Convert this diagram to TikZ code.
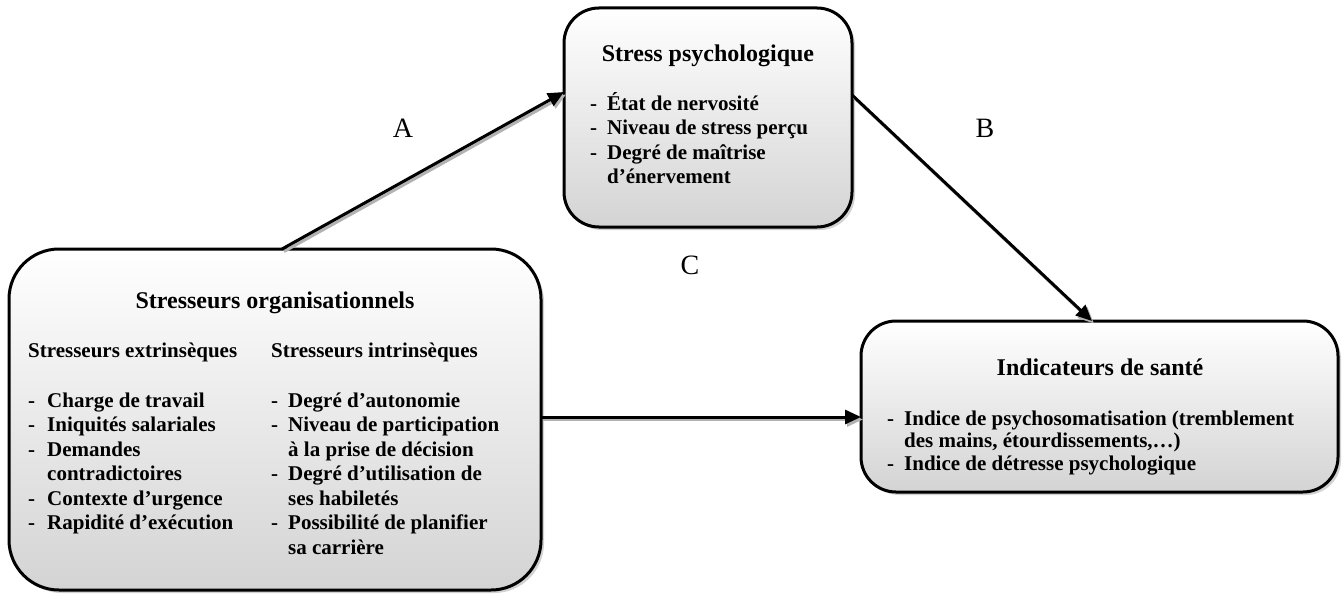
\documentclass[tikz,border=0pt]{standalone}
\usepackage{fontspec}
\setmainfont{Liberation Serif}
\usetikzlibrary{arrows.meta,shadows}
\begin{document}
\begin{tikzpicture}[x=1pt,y=-1pt,
  box/.style={draw=black, line width=3pt, top color=white, bottom color=black!17,
    drop shadow={shadow xshift=3pt,shadow yshift=-3pt,fill=black!35},
    inner sep=0pt, outer sep=0pt, anchor=north west},
  conn/.style={line width=3pt, -{Triangle[length=16pt,width=14pt]},
    preaction={draw=black!30, line width=3pt, transform canvas={xshift=2pt,yshift=-2.5pt}}},
  ttl/.style={font=\fontsize{24}{28}\selectfont\bfseries, inner sep=0pt, anchor=base},
  lst/.style={font=\fontsize{21}{24.5}\selectfont\bfseries, inner sep=0pt, anchor=base west},
  lst3/.style={font=\fontsize{21}{22.5}\selectfont\bfseries, inner sep=0pt, anchor=base west},
  lbl/.style={font=\fontsize{28}{32}\selectfont, inner sep=0pt}
]
\useasboundingbox (0,0) rectangle (1343,594);

% boxes
\node[box, rounded corners=35pt, minimum width=288pt, minimum height=219pt] (b1) at (564,8) {};
\node[box, rounded corners=50pt, minimum width=532pt, minimum height=341pt] (b2) at (9,249) {};
\node[box, rounded corners=35pt, minimum width=477pt, minimum height=171pt] (b3) at (861,321) {};

% box 1 text
\node[ttl] (t1) at (708,62) {Stress psychologique};
\node[lst] (l1) at (590,110) {\begin{tabular}[t]{@{}l@{\hspace{10pt}}l@{}}
- & État de nervosité\\
- & Niveau de stress perçu\\
- & Degré de maîtrise\\
  & d’énervement
\end{tabular}};

% box 2 text
\node[ttl] (t2) at (275,308) {Stresseurs organisationnels};
\node[lst] (h2a) at (28,357) {Stresseurs extrinsèques};
\node[lst] (h2b) at (271,357) {Stresseurs intrinsèques};
\node[lst] (l2a) at (28,407) {\begin{tabular}[t]{@{}l@{\hspace{12pt}}l@{}}
- & Charge de travail\\
- & Iniquités salariales\\
- & Demandes\\
  & contradictoires\\
- & Contexte d’urgence\\
- & Rapidité d’exécution
\end{tabular}};
\node[lst] (l2b) at (271,407) {\begin{tabular}[t]{@{}l@{\hspace{10pt}}l@{}}
- & Degré d’autonomie\\
- & Niveau de participation\\
  & à la prise de décision\\
- & Degré d’utilisation de\\
  & ses habiletés\\
- & Possibilité de planifier\\
  & sa carrière
\end{tabular}};

% box 3 text
\node[ttl] (t3) at (1100,375) {Indicateurs de santé};
\node[lst3] (l3) at (887,425) {\begin{tabular}[t]{@{}l@{\hspace{10pt}}l@{}}
- & Indice de psychosomatisation (tremblement\\
  & des mains, étourdissements,…)\\
- & Indice de détresse psychologique
\end{tabular}};

% connectors
\draw[conn] ([xshift=273pt]b2.north west) -- ([yshift=-84pt]b1.north west);
\draw[conn] ([yshift=-87pt]b1.north east) -- ([xshift=231pt]b3.north west);
\draw[conn] ([yshift=-168pt]b2.north east) -- ([yshift=-96pt]b3.north west);

% labels
\node[lbl] (la) at (403,128) {A};
\node[lbl] (lb) at (985,128) {B};
\node[lbl] (lc) at (690,265) {C};
\end{tikzpicture}
\end{document}
